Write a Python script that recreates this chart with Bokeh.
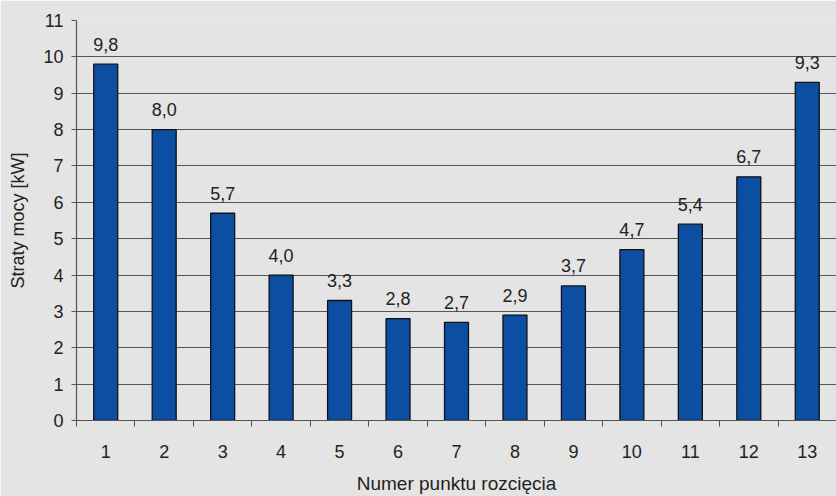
from bokeh.plotting import figure
from bokeh.models import ColumnDataSource, FixedTicker, Range1d
from bokeh.core.properties import value
from bokeh.embed import file_html
from bokeh.resources import INLINE

# Power losses for each cut point of the network
categories = ["1", "2", "3", "4", "5", "6", "7", "8", "9", "10", "11", "12", "13"]
losses_kw = [9.8, 8.0, 5.7, 4.0, 3.3, 2.8, 2.7, 2.9, 3.7, 4.7, 5.4, 6.7, 9.3]
y_ticks = list(range(0, 12))

FONT = "Liberation Sans"
BG = "#e3e4e3"
TEXT = "#222222"
GRID = "#555555"
BAR = "#0b4ea2"

x_pos = list(range(1, len(categories) + 1))
labels = [f"{v:.1f}".replace(".", ",") for v in losses_kw]
src = ColumnDataSource(dict(x=x_pos, top=losses_kw, label=labels))

p = figure(
    width=836, height=496,
    x_range=Range1d(0.5, len(categories) + 0.5),
    y_range=Range1d(0, 11),
    output_backend="svg", toolbar_location=None,
    min_border_left=76, min_border_right=0,
    min_border_top=20, min_border_bottom=76,
    background_fill_color=BG, border_fill_color=BG,
    outline_line_color=None,
)

p.vbar(x="x", top="top", width=0.41, bottom=0, source=src,
       fill_color=BAR, line_color="#111111", line_width=1.3)

p.text(x="x", y="top", text="label", source=src,
       text_align="center", text_baseline="alphabetic", y_offset=-20,
       text_font=value(FONT), text_font_size="18px", text_color=TEXT)

# x axis: labels at bar centres, tick marks between categories
p.xaxis.ticker = FixedTicker(ticks=x_pos,
                             minor_ticks=[i + 0.5 for i in range(0, len(categories) + 1)])
p.xaxis.major_label_overrides = {i: c for i, c in zip(x_pos, categories)}
p.xaxis.major_tick_out = 0
p.xaxis.major_tick_in = 0
p.xaxis.minor_tick_out = 6
p.xaxis.minor_tick_in = 0
p.xaxis.minor_tick_line_color = GRID
p.xaxis.major_label_standoff = 18
p.xaxis.axis_label = "Numer punktu rozcięcia"
p.xaxis.axis_label_standoff = 12

# y axis
p.yaxis.ticker = FixedTicker(ticks=y_ticks)
p.yaxis.minor_tick_line_color = None
p.yaxis.major_tick_out = 5
p.yaxis.major_tick_in = 0
p.yaxis.major_label_standoff = 8
p.yaxis.axis_label = "Straty mocy [kW]"
p.yaxis.axis_label_standoff = 12

for ax in (p.xaxis, p.yaxis):
    ax.axis_line_color = GRID
    ax.axis_line_width = 1.2
    ax.major_tick_line_color = GRID
    ax.major_label_text_font = FONT
    ax.major_label_text_font_size = "18px"
    ax.major_label_text_color = TEXT
    ax.axis_label_text_font = FONT
    ax.axis_label_text_font_size = "18px"
    ax.axis_label_text_font_style = "normal"
    ax.axis_label_text_color = TEXT
p.xaxis.axis_label_text_font_size = "19px"

p.xgrid.grid_line_color = None
p.ygrid.grid_line_color = GRID
p.ygrid.grid_line_width = 1

open("out.html", "w").write(file_html(p, INLINE))
